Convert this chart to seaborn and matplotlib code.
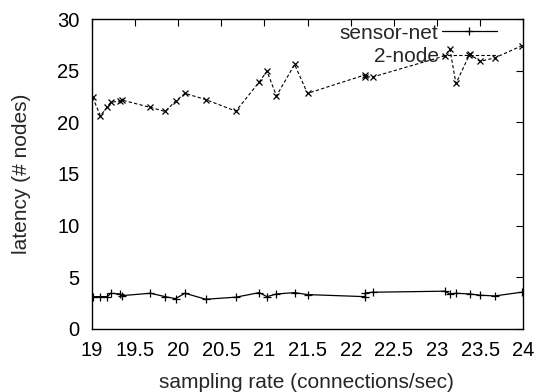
import matplotlib
matplotlib.use("Agg")
import matplotlib.pyplot as plt
import seaborn as sns
import pandas as pd

rate = [19.01, 19.10, 19.18, 19.22, 19.33, 19.35, 19.68, 19.85, 19.97, 20.08,
        20.32, 20.67, 20.94, 21.03, 21.14, 21.35, 21.50, 22.17, 22.17, 22.26,
        23.09, 23.15, 23.22, 23.38, 23.50, 23.67, 23.98]
sensor_net = [3.12, 3.12, 3.12, 3.45, 3.38, 3.22, 3.45, 3.12, 2.93, 3.45,
              2.87, 3.07, 3.51, 3.12, 3.38, 3.51, 3.32, 3.12, 3.48, 3.55,
              3.65, 3.38, 3.45, 3.38, 3.26, 3.19, 3.55]
two_node = [22.41, 20.63, 21.5, 21.95, 22.05, 22.15, 21.44, 21.05, 22.05, 22.8,
            22.2, 21.08, 23.9, 24.95, 22.56, 25.6, 22.8, 24.6, 24.4, 24.4,
            26.43, 27.08, 23.76, 26.6, 25.9, 26.24, 27.4]
xticks = [19, 19.5, 20, 20.5, 21, 21.5, 22, 22.5, 23, 23.5, 24]
yticks = [0, 5, 10, 15, 20, 25, 30]

sns.set_style("white")
plt.rcParams['font.family'] = ['Liberation Sans', 'DejaVu Sans']

fig = plt.figure(figsize=(5.4, 3.92), dpi=100)
ax = fig.add_axes([0.170, 0.161, 0.799, 0.7905])

df = pd.DataFrame({"rate": rate, "sensor": sensor_net, "two": two_node})
sns.lineplot(data=df, x="rate", y="sensor", ax=ax, color="black", lw=0.9,
             marker="+", markersize=6, markeredgewidth=0.9, markeredgecolor="black",
             sort=False, estimator=None, label="sensor-net")
sns.lineplot(data=df, x="rate", y="two", ax=ax, color="black", lw=0.8,
             marker="x", markersize=4.5, markeredgewidth=0.9, markeredgecolor="black",
             sort=False, estimator=None, label="2-node", dashes=False)
ax.lines[1].set_linestyle((0, (3, 2)))

ax.set_xlim(19, 24)
ax.set_ylim(0, 30)
ax.set_xticks(xticks)
ax.set_xticklabels([f"{t:g}" for t in xticks])
ax.set_yticks(yticks)
ax.tick_params(direction="in", length=5, width=0.8, top=True, right=True,
               labelsize=14.5, colors="black", pad=9)
for s in ax.spines.values():
    s.set_color("black")
    s.set_linewidth(1.0)
ax.set_xlabel("sampling rate (connections/sec)", fontsize=15)
ax.set_ylabel("latency (# nodes)", fontsize=15)
ax.xaxis.set_label_coords(0.497, -0.143)
ax.yaxis.set_label_coords(-0.141, 0.5)

leg = ax.legend(loc="upper right", bbox_to_anchor=(0.939, 0.985), frameon=False,
                markerfirst=False, fontsize=15, handlelength=2.65,
                handletextpad=0.15, labelspacing=0.22, borderaxespad=0, borderpad=0)
for t in leg.get_texts():
    t.set_ha("right")

fig.savefig("out.png", dpi=100)
